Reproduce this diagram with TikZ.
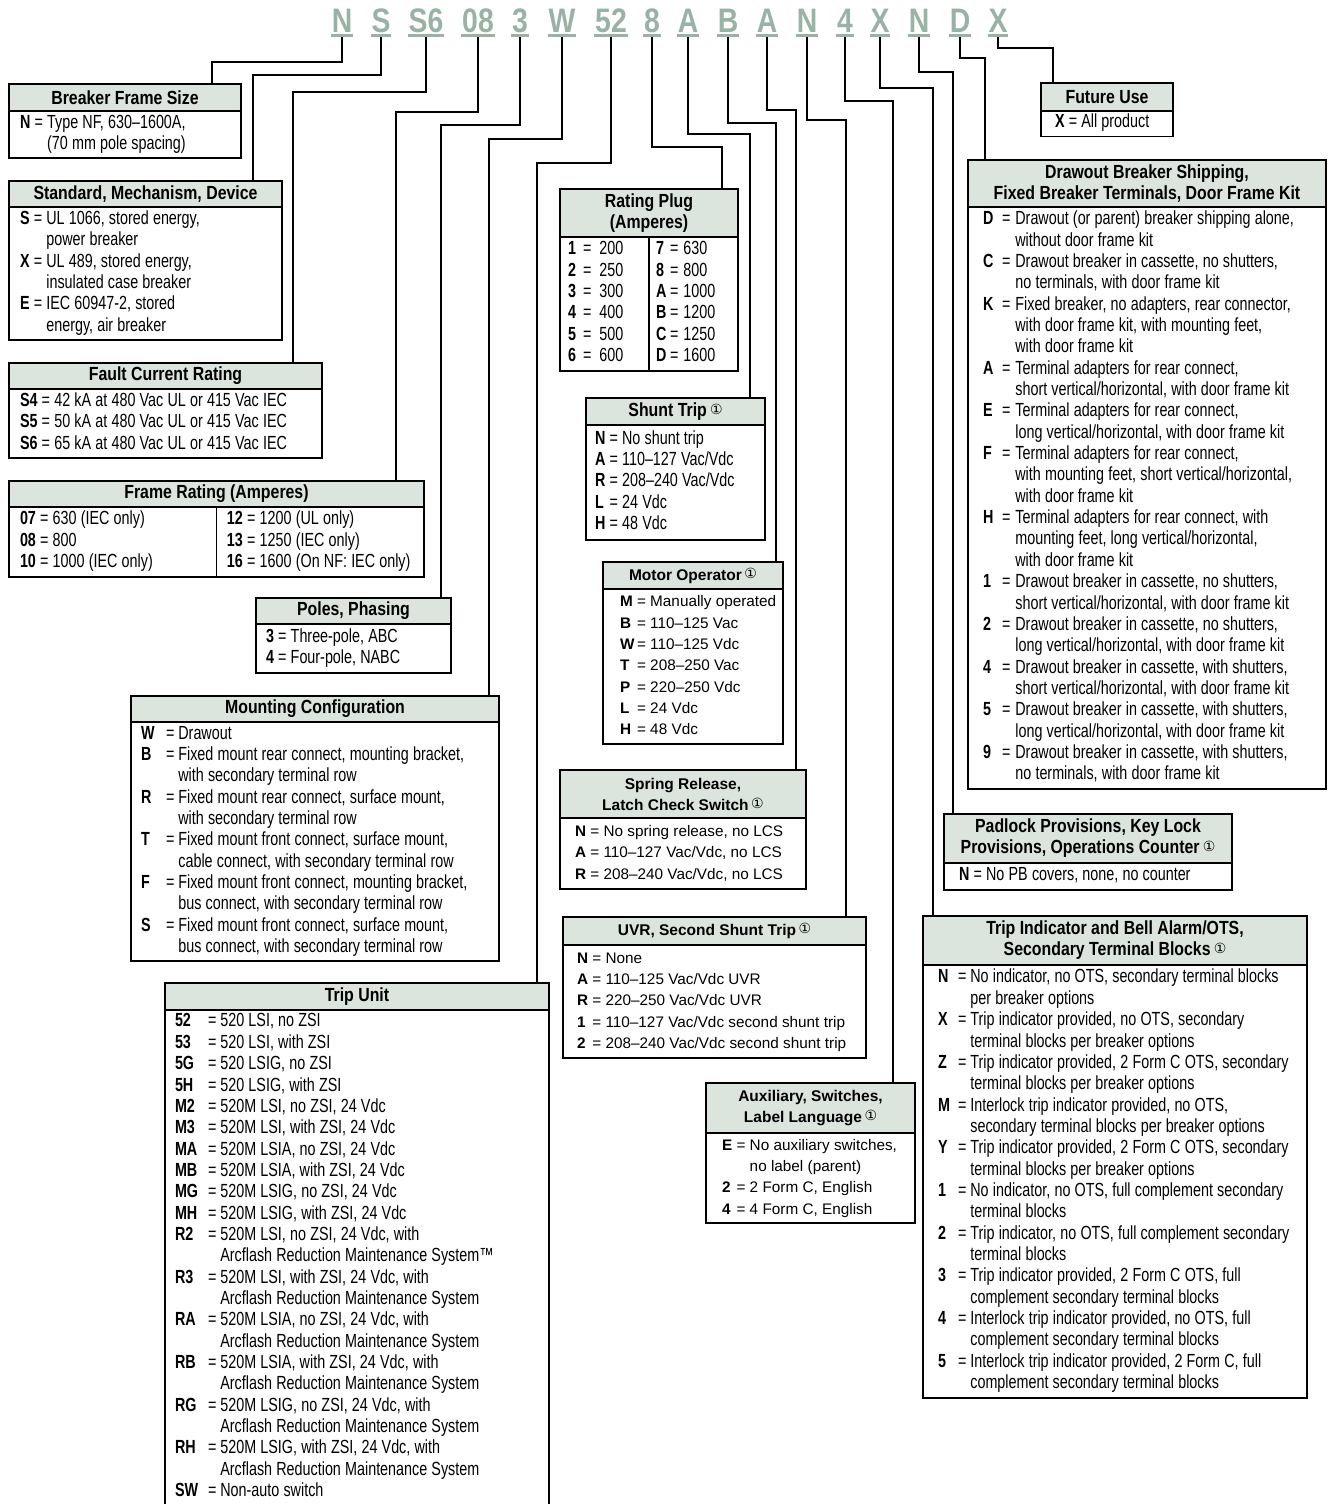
\documentclass[tikz,border=0pt]{standalone}
\usepackage{fontspec}
\setmainfont{Liberation Sans}[FakeStretch=0.755]
\newfontfamily\hdrfont{Liberation Sans}[FakeStretch=0.835]
\newfontfamily\widefont{Liberation Sans}
\newfontfamily\circfont{DejaVu Sans}
\usetikzlibrary{positioning}
\definecolor{codegreen}{HTML}{98B3A3}
\definecolor{hdrfill}{HTML}{DCE4DE}
\newcommand{\noteone}{\,\raisebox{2pt}{\circfont\mdseries\fontsize{14}{14}\selectfont ①}}
\newcommand{\bodysize}{\fontsize{19}{21.35}\selectfont}

\begin{document}
\begin{tikzpicture}[x=1pt,y=-1pt,
    wire/.style={line width=2pt},
    code/.style={anchor=base,inner xsep=1pt,inner ysep=0pt,text depth=4pt,
      text=codegreen,font=\hdrfont\bfseries\fontsize{34}{34}\selectfont,
      path picture={\fill[codegreen] ([yshift=2.5pt]path picture bounding box.south west)
        rectangle (path picture bounding box.south east);}},
    hdr/.style={draw,line width=1.2pt,fill=hdrfill,anchor=north west,inner sep=0pt,
      outer sep=0pt,align=center,font=\hdrfont\bfseries\fontsize{19}{21}\selectfont},
    whdr/.style={hdr,font=\widefont\bfseries\fontsize{15.5}{21}\selectfont},
    bdy/.style={draw,line width=1.2pt,inner ysep=2pt,outer sep=0pt,font=\bodysize,
      execute at begin node={\spaceskip=4.2pt plus 1pt minus 1pt}},
    wbdy/.style={bdy,font=\widefont\fontsize{15.3}{21.35}\selectfont,
      execute at begin node={\spaceskip=4.3pt plus 1pt minus 1pt}}]

  \useasboundingbox (0,0) rectangle (1328,1504);

  % catalog number
  \node[code] (cN)  at (342,33)  {N};
  \node[code] (cS)  at (381,33)  {S};
  \node[code] (cS6) at (426,33)  {S6};
  \node[code] (c08) at (478,33)  {08};
  \node[code] (c3)  at (520,33)  {3};
  \node[code] (cW)  at (562,33)  {W};
  \node[code] (c52) at (611,33)  {52};
  \node[code] (c8)  at (652,33)  {8};
  \node[code] (cA)  at (688,33)  {A};
  \node[code] (cB)  at (728,33)  {B};
  \node[code] (cAA) at (767,33)  {A};
  \node[code] (cNN) at (807,33)  {N};
  \node[code] (c4)  at (845,33)  {4};
  \node[code] (cX)  at (880,33)  {X};
  \node[code] (cNNN) at (919,33) {N};
  \node[code] (cD)  at (960,33)  {D};
  \node[code] (cXX) at (998,33)  {X};

  % left column
  \node[hdr,minimum width=232pt,minimum height=27pt] (hBFS) at (9,84) {Breaker Frame Size};
  \node[bdy,below=0pt of hBFS,text width=210pt,inner xsep=11pt,minimum height=47pt] (bBFS) {%
    \begin{tabular}{@{}l@{\ }l@{\ }l@{}}
      \textbf{N} & = & Type NF, 630–1600A,\\
                 &   & (70 mm pole spacing)
    \end{tabular}};

  \node[hdr,minimum width=273pt,minimum height=26pt] (hSMD) at (9,181) {Standard, Mechanism, Device};
  \node[bdy,below=0pt of hSMD,text width=251pt,inner xsep=11pt,minimum height=133pt] (bSMD) {%
    \begin{tabular}{@{}l@{\ }l@{\ }l@{}}
      \textbf{S} & = & UL 1066, stored energy,\\
                 &   & power breaker\\
      \textbf{X} & = & UL 489, stored energy,\\
                 &   & insulated case breaker\\
      \textbf{E} & = & IEC 60947-2, stored\\
                 &   & energy, air breaker
    \end{tabular}};

  \node[hdr,minimum width=313pt,minimum height=26pt] (hFCR) at (9,363) {Fault Current Rating};
  \node[bdy,below=0pt of hFCR,text width=291pt,inner xsep=11pt,minimum height=69pt] (bFCR) {%
    \begin{tabular}{@{}l@{\ }l@{\ }l@{}}
      \textbf{S4} & = & 42 kA at 480 Vac UL or 415 Vac IEC\\
      \textbf{S5} & = & 50 kA at 480 Vac UL or 415 Vac IEC\\
      \textbf{S6} & = & 65 kA at 480 Vac UL or 415 Vac IEC
    \end{tabular}};

  \node[hdr,minimum width=415pt,minimum height=26pt] (hFR) at (9,481) {Frame Rating (Amperes)};
  \node[bdy,below=0pt of hFR,text width=393pt,inner xsep=11pt,minimum height=70pt] (bFR) {%
    \makebox[207pt][l]{\begin{tabular}{@{}l@{\ }l@{\ }l@{}}
      \textbf{07} & = & 630 (IEC only)\\
      \textbf{08} & = & 800\\
      \textbf{10} & = & 1000 (IEC only)
    \end{tabular}}%
    \begin{tabular}{@{}l@{\ }l@{\ }l@{}}
      \textbf{12} & = & 1200 (UL only)\\
      \textbf{13} & = & 1250 (IEC only)\\
      \textbf{16} & = & 1600 (On NF: IEC only)
    \end{tabular}};
  \draw[line width=1.2pt] (bFR.north) -- (bFR.south);

  \node[hdr,minimum width=195pt,minimum height=26pt] (hPP) at (256,598) {Poles, Phasing};
  \node[bdy,below=0pt of hPP,text width=175pt,inner xsep=10pt,minimum height=49pt] (bPP) {%
    \begin{tabular}{@{}l@{\ }l@{\ }l@{}}
      \textbf{3} & = & Three-pole, ABC\\
      \textbf{4} & = & Four-pole, NABC
    \end{tabular}};

  \node[hdr,minimum width=368pt,minimum height=26pt] (hMC) at (131,696) {Mounting Configuration};
  \node[bdy,below=0pt of hMC,text width=348pt,inner xsep=10pt,minimum height=239pt] (bMC) {%
    \begin{tabular}{@{}p{25pt}@{}l@{\hspace{4pt}}l@{}}
      \textbf{W} & = & Drawout\\
      \textbf{B} & = & Fixed mount rear connect, mounting bracket,\\
                 &   & with secondary terminal row\\
      \textbf{R} & = & Fixed mount rear connect, surface mount,\\
                 &   & with secondary terminal row\\
      \textbf{T} & = & Fixed mount front connect, surface mount,\\
                 &   & cable connect, with secondary terminal row\\
      \textbf{F} & = & Fixed mount front connect, mounting bracket,\\
                 &   & bus connect, with secondary terminal row\\
      \textbf{S} & = & Fixed mount front connect, surface mount,\\
                 &   & bus connect, with secondary terminal row
    \end{tabular}};

  \node[hdr,minimum width=384pt,minimum height=27pt] (hTU) at (165,983) {Trip Unit};
  \node[bdy,below=0pt of hTU,text width=364pt,inner xsep=10pt,minimum height=493pt] (bTU) {%
    \begin{tabular}{@{}p{33pt}@{}l@{\hspace{4pt}}l@{}}
      \textbf{52} & = & 520 LSI, no ZSI\\
      \textbf{53} & = & 520 LSI, with ZSI\\
      \textbf{5G} & = & 520 LSIG, no ZSI\\
      \textbf{5H} & = & 520 LSIG, with ZSI\\
      \textbf{M2} & = & 520M LSI, no ZSI, 24 Vdc\\
      \textbf{M3} & = & 520M LSI, with ZSI, 24 Vdc\\
      \textbf{MA} & = & 520M LSIA, no ZSI, 24 Vdc\\
      \textbf{MB} & = & 520M LSIA, with ZSI, 24 Vdc\\
      \textbf{MG} & = & 520M LSIG, no ZSI, 24 Vdc\\
      \textbf{MH} & = & 520M LSIG, with ZSI, 24 Vdc\\
      \textbf{R2} & = & 520M LSI, no ZSI, 24 Vdc, with\\
                  &   & Arcflash Reduction Maintenance System™\\
      \textbf{R3} & = & 520M LSI, with ZSI, 24 Vdc, with\\
                  &   & Arcflash Reduction Maintenance System\\
      \textbf{RA} & = & 520M LSIA, no ZSI, 24 Vdc, with\\
                  &   & Arcflash Reduction Maintenance System\\
      \textbf{RB} & = & 520M LSIA, with ZSI, 24 Vdc, with\\
                  &   & Arcflash Reduction Maintenance System\\
      \textbf{RG} & = & 520M LSIG, no ZSI, 24 Vdc, with\\
                  &   & Arcflash Reduction Maintenance System\\
      \textbf{RH} & = & 520M LSIG, with ZSI, 24 Vdc, with\\
                  &   & Arcflash Reduction Maintenance System\\
      \textbf{SW} & = & Non-auto switch
    \end{tabular}};

  % middle column
  \node[hdr,minimum width=178pt,minimum height=48pt] (hRP) at (560,189) {Rating Plug\\(Amperes)};
  \node[bdy,below=0pt of hRP,text width=162pt,inner xsep=8pt,minimum height=134pt] (bRP) {%
    \makebox[88pt][l]{\begin{tabular}{@{}p{15pt}@{}l@{\hspace{8pt}}l@{}}
      \textbf{1} & = & 200\\
      \textbf{2} & = & 250\\
      \textbf{3} & = & 300\\
      \textbf{4} & = & 400\\
      \textbf{5} & = & 500\\
      \textbf{6} & = & 600
    \end{tabular}}%
    \begin{tabular}{@{}p{14pt}@{}l@{\hspace{5pt}}l@{}}
      \textbf{7} & = & 630\\
      \textbf{8} & = & 800\\
      \textbf{A} & = & 1000\\
      \textbf{B} & = & 1200\\
      \textbf{C} & = & 1250\\
      \textbf{D} & = & 1600
    \end{tabular}};
  \draw[line width=1.2pt] (bRP.north) -- (bRP.south);

  \node[hdr,minimum width=179pt,minimum height=27pt] (hST) at (586,398) {Shunt Trip\noteone};
  \node[bdy,below=0pt of hST,text width=161pt,inner xsep=9pt,minimum height=115pt] (bST) {%
    \begin{tabular}{@{}l@{\ }l@{\ }l@{}}
      \textbf{N} & = & No shunt trip\\
      \textbf{A} & = & 110–127 Vac/Vdc\\
      \textbf{R} & = & 208–240 Vac/Vdc\\
      \textbf{L} & = & 24 Vdc\\
      \textbf{H} & = & 48 Vdc
    \end{tabular}};

  \node[whdr,minimum width=180pt,minimum height=27pt] (hMO) at (603,562) {Motor Operator\noteone};
  \node[wbdy,below=0pt of hMO,text width=146pt,inner xsep=17pt,minimum height=155pt] (bMO) {%
    \begin{tabular}{@{}p{17pt}@{}l@{\ }l@{}}
      \textbf{M} & = & Manually operated\\
      \textbf{B} & = & 110–125 Vac\\
      \textbf{W} & = & 110–125 Vdc\\
      \textbf{T} & = & 208–250 Vac\\
      \textbf{P} & = & 220–250 Vdc\\
      \textbf{L} & = & 24 Vdc\\
      \textbf{H} & = & 48 Vdc
    \end{tabular}};

  \node[whdr,minimum width=246pt,minimum height=48pt] (hSR) at (560,770) {Spring Release,\\Latch Check Switch\noteone};
  \node[wbdy,below=0pt of hSR,text width=216pt,inner xsep=15pt,minimum height=71pt] (bSR) {%
    \begin{tabular}{@{}l@{\ }l@{\ }l@{}}
      \textbf{N} & = & No spring release, no LCS\\
      \textbf{A} & = & 110–127 Vac/Vdc, no LCS\\
      \textbf{R} & = & 208–240 Vac/Vdc, no LCS
    \end{tabular}};

  \node[whdr,minimum width=303pt,minimum height=28pt] (hUVR) at (563,917) {UVR, Second Shunt Trip\noteone};
  \node[wbdy,below=0pt of hUVR,text width=275pt,inner xsep=14pt,minimum height=113pt] (bUVR) {%
    \begin{tabular}{@{}l@{\ }l@{\ }l@{}}
      \textbf{N} & = & None\\
      \textbf{A} & = & 110–125 Vac/Vdc UVR\\
      \textbf{R} & = & 220–250 Vac/Vdc UVR\\
      \textbf{1} & = & 110–127 Vac/Vdc second shunt trip\\
      \textbf{2} & = & 208–240 Vac/Vdc second shunt trip
    \end{tabular}};

  \node[whdr,minimum width=209pt,minimum height=50pt] (hAUX) at (706,1083) {Auxiliary, Switches,\\Label Language\noteone};
  \node[wbdy,below=0pt of hAUX,text width=177pt,inner xsep=16pt,minimum height=90pt] (bAUX) {%
    \begin{tabular}{@{}l@{\ }l@{\ }l@{}}
      \textbf{E} & = & No auxiliary switches,\\
                 &   & no label (parent)\\
      \textbf{2} & = & 2 Form C, English\\
      \textbf{4} & = & 4 Form C, English
    \end{tabular}};

  % right column
  \node[hdr,minimum width=132pt,minimum height=28pt] (hFU) at (1041,83) {Future Use};
  \node[bdy,below=0pt of hFU,text width=104pt,inner xsep=14pt,minimum height=25pt] (bFU) {%
    \begin{tabular}{@{}l@{\ }l@{\ }l@{}}
      \textbf{X} & = & All product
    \end{tabular}};

  \node[hdr,minimum width=358pt,minimum height=47pt] (hDBS) at (968,160) {Drawout Breaker Shipping,\\Fixed Breaker Terminals, Door Frame Kit};
  \node[bdy,below=0pt of hDBS,text width=328pt,inner xsep=15pt,minimum height=582pt] (bDBS) {%
    \begin{tabular}{@{}p{19pt}@{}l@{\hspace{5pt}}l@{}}
      \textbf{D} & = & Drawout (or parent) breaker shipping alone,\\
                 &   & without door frame kit\\
      \textbf{C} & = & Drawout breaker in cassette, no shutters,\\
                 &   & no terminals, with door frame kit\\
      \textbf{K} & = & Fixed breaker, no adapters, rear connector,\\
                 &   & with door frame kit, with mounting feet,\\
                 &   & with door frame kit\\
      \textbf{A} & = & Terminal adapters for rear connect,\\
                 &   & short vertical/horizontal, with door frame kit\\
      \textbf{E} & = & Terminal adapters for rear connect,\\
                 &   & long vertical/horizontal, with door frame kit\\
      \textbf{F} & = & Terminal adapters for rear connect,\\
                 &   & with mounting feet, short vertical/horizontal,\\
                 &   & with door frame kit\\
      \textbf{H} & = & Terminal adapters for rear connect, with\\
                 &   & mounting feet, long vertical/horizontal,\\
                 &   & with door frame kit\\
      \textbf{1} & = & Drawout breaker in cassette, no shutters,\\
                 &   & short vertical/horizontal, with door frame kit\\
      \textbf{2} & = & Drawout breaker in cassette, no shutters,\\
                 &   & long vertical/horizontal, with door frame kit\\
      \textbf{4} & = & Drawout breaker in cassette, with shutters,\\
                 &   & short vertical/horizontal, with door frame kit\\
      \textbf{5} & = & Drawout breaker in cassette, with shutters,\\
                 &   & long vertical/horizontal, with door frame kit\\
      \textbf{9} & = & Drawout breaker in cassette, with shutters,\\
                 &   & no terminals, with door frame kit
    \end{tabular}};

  \node[hdr,minimum width=288pt,minimum height=49pt] (hPAD) at (944,814) {Padlock Provisions, Key Lock\\Provisions, Operations Counter\noteone};
  \node[bdy,below=0pt of hPAD,text width=258pt,inner xsep=15pt,minimum height=27pt] (bPAD) {%
    \begin{tabular}{@{}l@{\ }l@{\ }l@{}}
      \textbf{N} & = & No PB covers, none, no counter
    \end{tabular}};

  \node[hdr,minimum width=384pt,minimum height=49pt] (hTI) at (923,916) {Trip Indicator and Bell Alarm/OTS,\\Secondary Terminal Blocks\noteone};
  \node[bdy,below=0pt of hTI,text width=354pt,inner xsep=15pt,minimum height=433pt] (bTI) {%
    \begin{tabular}{@{}p{20pt}@{}l@{\hspace{4pt}}l@{}}
      \textbf{N} & = & No indicator, no OTS, secondary terminal blocks\\
                 &   & per breaker options\\
      \textbf{X} & = & Trip indicator provided, no OTS, secondary\\
                 &   & terminal blocks per breaker options\\
      \textbf{Z} & = & Trip indicator provided, 2 Form C OTS, secondary\\
                 &   & terminal blocks per breaker options\\
      \textbf{M} & = & Interlock trip indicator provided, no OTS,\\
                 &   & secondary terminal blocks per breaker options\\
      \textbf{Y} & = & Trip indicator provided, 2 Form C OTS, secondary\\
                 &   & terminal blocks per breaker options\\
      \textbf{1} & = & No indicator, no OTS, full complement secondary\\
                 &   & terminal blocks\\
      \textbf{2} & = & Trip indicator, no OTS, full complement secondary\\
                 &   & terminal blocks\\
      \textbf{3} & = & Trip indicator provided, 2 Form C OTS, full\\
                 &   & complement secondary terminal blocks\\
      \textbf{4} & = & Interlock trip indicator provided, no OTS, full\\
                 &   & complement secondary terminal blocks\\
      \textbf{5} & = & Interlock trip indicator provided, 2 Form C, full\\
                 &   & complement secondary terminal blocks
    \end{tabular}};

  % connectors
  \draw[wire] (cN.south)   |- (212,62)  -- (212,62 |- hBFS.north);
  \draw[wire] (cS.south)   |- (253,75)  -- (253,75 |- hSMD.north);
  \draw[wire] (cS6.south)  |- (293,92)  -- (293,92 |- hFCR.north);
  \draw[wire] (c08.south)  |- (396,112) -- (396,112 |- hFR.north);
  \draw[wire] (c3.south)   |- (441,125) -- (441,125 |- hPP.north);
  \draw[wire] (cW.south)   |- (489,139) -- (489,139 |- hMC.north);
  \draw[wire] (c52.south)  |- (537,163) -- (537,163 |- hTU.north);
  \draw[wire] (c8.south)   |- (722,147) -- (722,147 |- hRP.north);
  \draw[wire] (cA.south)   |- (750,134) -- (750,134 |- hST.north);
  \draw[wire] (cB.south)   |- (776,123) -- (776,123 |- hMO.north);
  \draw[wire] (cAA.south)  |- (796,110) -- (796,110 |- hSR.north);
  \draw[wire] (cNN.south)  |- (846,120) -- (846,120 |- hUVR.north);
  \draw[wire] (c4.south)   |- (893,101) -- (893,101 |- hAUX.north);
  \draw[wire] (cX.south)   |- (933,88)  -- (933,88 |- hTI.north);
  \draw[wire] (cNNN.south) |- (953,72)  -- (953,72 |- hPAD.north);
  \draw[wire] (cD.south)   |- (985,58)  -- (985,58 |- hDBS.north);
  \draw[wire] (cXX.south)  |- (1053,48) -- (1053,48 |- hFU.north);
\end{tikzpicture}
\end{document}
